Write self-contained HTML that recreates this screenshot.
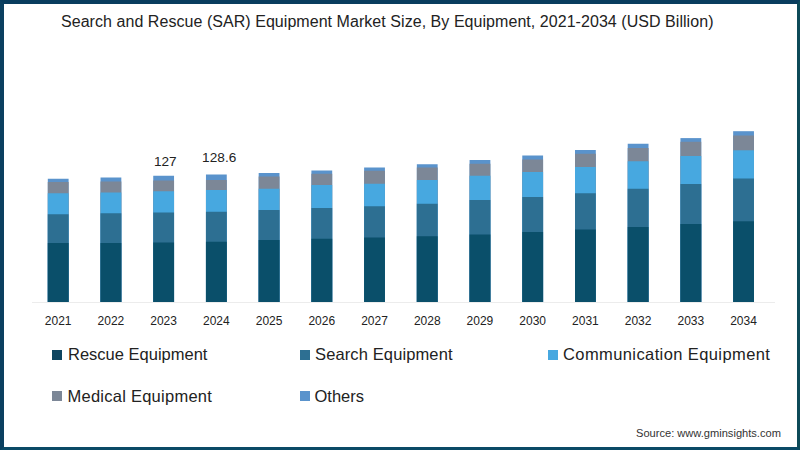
<!DOCTYPE html>
<html><head><meta charset="utf-8"><style>
*{margin:0;padding:0;box-sizing:border-box}
html,body{width:800px;height:450px;overflow:hidden;background:#fff}
body{font-family:"Liberation Sans",sans-serif;color:#222;position:relative}
.frame{position:absolute;left:0;top:0;width:800px;height:450px;border-style:solid;border-color:#093d5e #0d4a58 #0b4a66 #0b4060;border-width:4px 3px 3px 4px}
.title{position:absolute;left:61px;top:11.5px;letter-spacing:0.05px;font-size:16px;line-height:20px;white-space:nowrap;color:#222}
svg{position:absolute;left:0;top:0}
.xl{position:absolute;top:314px;width:40px;text-align:center;font-size:12px;line-height:14px;color:#222}
.val{position:absolute;font-size:13.6px;line-height:16px;color:#222;white-space:nowrap}
.lg{position:absolute;font-size:16.5px;line-height:20px;white-space:nowrap;color:#222}
.sq{position:absolute;width:10px;height:10px}
.src{position:absolute;left:636px;top:426px;font-size:11.1px;line-height:14px;color:#333;white-space:nowrap}
</style></head><body>
<div class="title">Search and Rescue (SAR) Equipment Market Size, By Equipment, 2021-2034 (USD Billion)</div>
<svg width="800" height="450" viewBox="0 0 800 450">
<line x1="32" y1="302.5" x2="775" y2="302.5" stroke="#ececec" stroke-width="1"/>
<rect x="47.80" y="178.75" width="20.8" height="123.25" fill="#5a93cc"/><rect x="47.80" y="182.00" width="20.8" height="120.00" fill="#7c8797"/><rect x="47.80" y="193.25" width="20.8" height="108.75" fill="#47a8e0"/><rect x="47.80" y="214.25" width="20.8" height="87.75" fill="#2d6f92"/><rect x="47.80" y="243.00" width="20.8" height="59.00" fill="#0a4f6a"/><rect x="100.52" y="177.50" width="20.8" height="124.50" fill="#5a93cc"/><rect x="100.52" y="181.50" width="20.8" height="120.50" fill="#7c8797"/><rect x="100.52" y="192.50" width="20.8" height="109.50" fill="#47a8e0"/><rect x="100.52" y="213.25" width="20.8" height="88.75" fill="#2d6f92"/><rect x="100.52" y="243.00" width="20.8" height="59.00" fill="#0a4f6a"/><rect x="153.24" y="175.75" width="20.8" height="126.25" fill="#5a93cc"/><rect x="153.24" y="180.50" width="20.8" height="121.50" fill="#7c8797"/><rect x="153.24" y="191.25" width="20.8" height="110.75" fill="#47a8e0"/><rect x="153.24" y="212.50" width="20.8" height="89.50" fill="#2d6f92"/><rect x="153.24" y="242.50" width="20.8" height="59.50" fill="#0a4f6a"/><rect x="205.96" y="174.50" width="20.8" height="127.50" fill="#5a93cc"/><rect x="205.96" y="180.00" width="20.8" height="122.00" fill="#7c8797"/><rect x="205.96" y="190.00" width="20.8" height="112.00" fill="#47a8e0"/><rect x="205.96" y="211.75" width="20.8" height="90.25" fill="#2d6f92"/><rect x="205.96" y="241.75" width="20.8" height="60.25" fill="#0a4f6a"/><rect x="258.68" y="173.00" width="20.8" height="129.00" fill="#5a93cc"/><rect x="258.68" y="176.50" width="20.8" height="125.50" fill="#7c8797"/><rect x="258.68" y="188.75" width="20.8" height="113.25" fill="#47a8e0"/><rect x="258.68" y="210.00" width="20.8" height="92.00" fill="#2d6f92"/><rect x="258.68" y="240.00" width="20.8" height="62.00" fill="#0a4f6a"/><rect x="311.40" y="170.50" width="20.8" height="131.50" fill="#5a93cc"/><rect x="311.40" y="173.75" width="20.8" height="128.25" fill="#7c8797"/><rect x="311.40" y="185.00" width="20.8" height="117.00" fill="#47a8e0"/><rect x="311.40" y="208.00" width="20.8" height="94.00" fill="#2d6f92"/><rect x="311.40" y="238.75" width="20.8" height="63.25" fill="#0a4f6a"/><rect x="364.12" y="167.50" width="20.8" height="134.50" fill="#5a93cc"/><rect x="364.12" y="170.75" width="20.8" height="131.25" fill="#7c8797"/><rect x="364.12" y="183.75" width="20.8" height="118.25" fill="#47a8e0"/><rect x="364.12" y="206.25" width="20.8" height="95.75" fill="#2d6f92"/><rect x="364.12" y="237.50" width="20.8" height="64.50" fill="#0a4f6a"/><rect x="416.84" y="164.25" width="20.8" height="137.75" fill="#5a93cc"/><rect x="416.84" y="167.50" width="20.8" height="134.50" fill="#7c8797"/><rect x="416.84" y="180.00" width="20.8" height="122.00" fill="#47a8e0"/><rect x="416.84" y="203.75" width="20.8" height="98.25" fill="#2d6f92"/><rect x="416.84" y="236.25" width="20.8" height="65.75" fill="#0a4f6a"/><rect x="469.56" y="160.00" width="20.8" height="142.00" fill="#5a93cc"/><rect x="469.56" y="163.75" width="20.8" height="138.25" fill="#7c8797"/><rect x="469.56" y="175.75" width="20.8" height="126.25" fill="#47a8e0"/><rect x="469.56" y="200.00" width="20.8" height="102.00" fill="#2d6f92"/><rect x="469.56" y="234.50" width="20.8" height="67.50" fill="#0a4f6a"/><rect x="522.28" y="155.50" width="20.8" height="146.50" fill="#5a93cc"/><rect x="522.28" y="159.50" width="20.8" height="142.50" fill="#7c8797"/><rect x="522.28" y="172.00" width="20.8" height="130.00" fill="#47a8e0"/><rect x="522.28" y="197.00" width="20.8" height="105.00" fill="#2d6f92"/><rect x="522.28" y="232.00" width="20.8" height="70.00" fill="#0a4f6a"/><rect x="575.00" y="150.00" width="20.8" height="152.00" fill="#5a93cc"/><rect x="575.00" y="153.75" width="20.8" height="148.25" fill="#7c8797"/><rect x="575.00" y="167.00" width="20.8" height="135.00" fill="#47a8e0"/><rect x="575.00" y="193.25" width="20.8" height="108.75" fill="#2d6f92"/><rect x="575.00" y="229.50" width="20.8" height="72.50" fill="#0a4f6a"/><rect x="627.72" y="143.75" width="20.8" height="158.25" fill="#5a93cc"/><rect x="627.72" y="148.00" width="20.8" height="154.00" fill="#7c8797"/><rect x="627.72" y="161.25" width="20.8" height="140.75" fill="#47a8e0"/><rect x="627.72" y="188.75" width="20.8" height="113.25" fill="#2d6f92"/><rect x="627.72" y="227.00" width="20.8" height="75.00" fill="#0a4f6a"/><rect x="680.44" y="138.10" width="20.8" height="163.90" fill="#5a93cc"/><rect x="680.44" y="141.80" width="20.8" height="160.20" fill="#7c8797"/><rect x="680.44" y="156.00" width="20.8" height="146.00" fill="#47a8e0"/><rect x="680.44" y="184.00" width="20.8" height="118.00" fill="#2d6f92"/><rect x="680.44" y="224.00" width="20.8" height="78.00" fill="#0a4f6a"/><rect x="733.16" y="131.20" width="20.8" height="170.80" fill="#5a93cc"/><rect x="733.16" y="135.50" width="20.8" height="166.50" fill="#7c8797"/><rect x="733.16" y="150.30" width="20.8" height="151.70" fill="#47a8e0"/><rect x="733.16" y="178.50" width="20.8" height="123.50" fill="#2d6f92"/><rect x="733.16" y="221.30" width="20.8" height="80.70" fill="#0a4f6a"/>
</svg>
<div class="xl" style="left:38.20px">2021</div><div class="xl" style="left:90.92px">2022</div><div class="xl" style="left:143.64px">2023</div><div class="xl" style="left:196.36px">2024</div><div class="xl" style="left:249.08px">2025</div><div class="xl" style="left:301.80px">2026</div><div class="xl" style="left:354.52px">2027</div><div class="xl" style="left:407.24px">2028</div><div class="xl" style="left:459.96px">2029</div><div class="xl" style="left:512.68px">2030</div><div class="xl" style="left:565.40px">2031</div><div class="xl" style="left:618.12px">2032</div><div class="xl" style="left:670.84px">2033</div><div class="xl" style="left:723.56px">2034</div>
<div class="val" style="left:154px;top:153.5px">127</div>
<div class="val" style="left:202px;top:149.5px;letter-spacing:0.1px">128.6</div>
<div class="sq" style="left:52px;top:350px;background:#0e4560"></div>
<div class="lg" style="left:68px;top:344px">Rescue Equipment</div>
<div class="sq" style="left:300px;top:350px;background:#2d6f92"></div>
<div class="lg" style="left:315px;top:344px;letter-spacing:0.12px">Search Equipment</div>
<div class="sq" style="left:548px;top:350px;background:#47a8e0"></div>
<div class="lg" style="left:563px;top:344px;letter-spacing:0.4px">Communication Equipment</div>
<div class="sq" style="left:52px;top:391px;background:#7c8797"></div>
<div class="lg" style="left:67.5px;top:386px;letter-spacing:0.25px">Medical Equipment</div>
<div class="sq" style="left:300px;top:391px;background:#5a93cc"></div>
<div class="lg" style="left:314.5px;top:386px">Others</div>
<div class="src">Source: www.gminsights.com</div>
<div class="frame"></div>
</body></html>
